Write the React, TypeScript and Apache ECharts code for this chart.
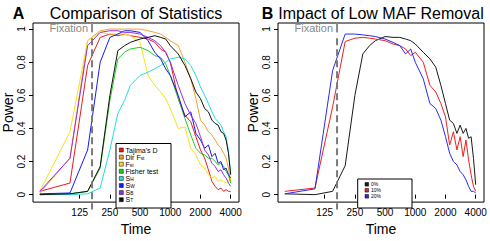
import React, { useEffect, useRef } from 'react';
import * as echarts from 'echarts';

// ---- data ----
const times = [50, 100, 150, 200, 250, 300, 350, 400, 500, 600, 700, 800, 900, 1000, 1200, 1400, 1600, 1800, 2000, 2200, 2400, 2600, 2800, 3000, 3200, 3400, 3600, 3800, 4000];
const tickTimes = [125, 250, 500, 1000, 2000, 4000];
const powerTicks = [0, 0.2, 0.4, 0.6, 0.8, 1];
const fixationTime = 166;

const statNames = ["Tajima's D", 'Dir Fst', 'Fst', 'Fisher test', 'SH', 'SW', 'SB', 'ST'];
const statColors = ['#e81c1c', '#f2a22e', '#f2e41c', '#22cc22', '#22dede', '#1a1ae8', '#9a2ee0', '#111111'];

const tajimaD = [0.02, 0.07, 0.78, 0.95, 0.97, 0.96, 0.97, 0.96, 0.95, 0.94, 0.92, 0.88, 0.86, 0.80, 0.58, 0.48, 0.44, 0.35, 0.27, 0.22, 0.15, 0.08, 0.05, 0.03, 0.04, 0.02, 0.03, 0.02, 0.02];
const dirFst = [0.01, 0.22, 0.93, 0.99, 1.0, 1.0, 1.0, 1.0, 1.0, 0.99, 0.98, 0.97, 0.95, 0.93, 0.90, 0.80, 0.70, 0.58, 0.45, 0.42, 0.38, 0.36, 0.33, 0.30, 0.28, 0.25, 0.22, 0.16, 0.08];
const fst = [0.02, 0.38, 0.93, 0.98, 0.97, 0.97, 0.97, 0.96, 0.92, 0.72, 0.66, 0.62, 0.58, 0.52, 0.40, 0.41, 0.28, 0.24, 0.18, 0.16, 0.12, 0.10, 0.11, 0.08, 0.09, 0.08, 0.07, 0.08, 0.10];
const fisherTest = [0.0, 0.005, 0.02, 0.16, 0.57, 0.82, 0.86, 0.88, 0.89, 0.87, 0.84, 0.83, 0.79, 0.72, 0.58, 0.46, 0.36, 0.28, 0.25, 0.24, 0.22, 0.22, 0.20, 0.18, 0.19, 0.17, 0.14, 0.12, 0.07];
const sH = [0.0, 0.0, 0.005, 0.04, 0.27, 0.49, 0.57, 0.66, 0.72, 0.74, 0.76, 0.78, 0.80, 0.82, 0.83, 0.82, 0.78, 0.72, 0.65, 0.60, 0.55, 0.50, 0.46, 0.44, 0.42, 0.38, 0.35, 0.26, 0.13];
const sW = [0.005, 0.01, 0.27, 0.80, 0.95, 0.97, 0.99, 0.99, 0.98, 0.93, 0.86, 0.82, 0.76, 0.72, 0.60, 0.47, 0.50, 0.37, 0.33, 0.28, 0.30, 0.23, 0.25, 0.19, 0.20, 0.15, 0.16, 0.12, 0.10];
const sB = [0.02, 0.22, 0.90, 0.98, 0.99, 0.99, 0.98, 0.98, 0.97, 0.95, 0.93, 0.90, 0.86, 0.80, 0.66, 0.55, 0.48, 0.43, 0.35, 0.27, 0.24, 0.19, 0.17, 0.14, 0.15, 0.12, 0.10, 0.07, 0.05];
const sT = [0.0, 0.005, 0.02, 0.17, 0.60, 0.87, 0.90, 0.92, 0.94, 0.95, 0.96, 0.95, 0.94, 0.90, 0.85, 0.78, 0.70, 0.62, 0.58, 0.52, 0.50, 0.45, 0.43, 0.42, 0.38, 0.37, 0.33, 0.25, 0.12];
const statValues = [tajimaD, dirFst, fst, fisherTest, sH, sW, sB, sT];

const mafNames = ['0%', '10%', '20%'];
const mafColors = ['#1a1a1a', '#ee2020', '#2a2aee'];
const maf0 = [0.005, 0.0, 0.02, 0.175, 0.60, 0.85, 0.90, 0.93, 0.955, 0.95, 0.95, 0.94, 0.93, 0.91, 0.86, 0.82, 0.77, 0.66, 0.55, 0.45, 0.43, 0.37, 0.42, 0.37, 0.40, 0.34, 0.35, 0.22, 0.06];
const maf10 = [0.02, 0.04, 0.53, 0.925, 0.945, 0.95, 0.945, 0.94, 0.93, 0.91, 0.90, 0.88, 0.84, 0.86, 0.80, 0.66, 0.62, 0.55, 0.47, 0.30, 0.38, 0.27, 0.35, 0.23, 0.33, 0.21, 0.12, 0.05, 0.02];
const maf20 = [0.005, 0.035, 0.75, 0.97, 0.97, 0.965, 0.96, 0.955, 0.94, 0.92, 0.90, 0.85, 0.88, 0.80, 0.70, 0.55, 0.52, 0.45, 0.35, 0.25, 0.20, 0.18, 0.14, 0.12, 0.09, 0.05, 0.02, 0.02, 0.01];
const mafValues = [maf0, maf10, maf20];

const titles = ['Comparison of Statistics', 'Impact of Low MAF Removal'];
const panelLetters = ['A', 'B'];

// ---- layout / style ----
const FONT = '"Liberation Sans", Arial, Helvetica, sans-serif';
const lg = (t: number) => Math.log2(t);
const X_MIN = 5.4195;
const X_MAX = 12.241;
const Y_MIN = -0.045;
const Y_MAX = 1.0368;
const GRID_LEFTS = [33, 278];
const GRID_TOP = 23;
const GRID_W = 206;
const GRID_H = 185;

const richMap: Record<string, string> = {
  "Tajima's D": "{n|Tajima's D}",
  'Dir Fst': '{n|Dir F}{s|st}',
  Fst: '{n|F}{s|st}',
  'Fisher test': '{n|Fisher test}',
  SH: '{n|S}{s|H}',
  SW: '{n|S}{s|W}',
  SB: '{n|S}{s|B}',
  ST: '{n|S}{s|T}',
};

// legend box descriptor: box rect, first row centre, row step, square x, text x, font size
const legendBoxes = [
  { names: statNames, colors: statColors, box: [116, 143.5, 55, 64.5], row0: 150, step: 7.1, sq: 119.3, tx: 125.5, fs: 7, sz: 4 },
  { names: mafNames, colors: mafColors, box: [357.7, 179, 54.3, 29], row0: 184.3, step: 6, sq: 365, tx: 371, fs: 5, sz: 3.6 },
];

function buildOption() {
  const grids = GRID_LEFTS.map((left) => ({
    left,
    top: GRID_TOP,
    width: GRID_W,
    height: GRID_H,
    show: true,
    borderColor: '#000',
    borderWidth: 1,
    backgroundColor: 'transparent',
  }));

  const xAxes = [0, 1].map((i) => ({
    type: 'value',
    gridIndex: i,
    min: X_MIN,
    max: X_MAX,
    axisLine: { show: false },
    splitLine: { show: false },
    axisTick: {
      show: true,
      inside: false,
      length: 4,
      customValues: tickTimes.map(lg),
      lineStyle: { color: '#000', width: 1 },
    },
    axisLabel: {
      customValues: tickTimes.map(lg),
      formatter: (v: number) => String(Math.round(Math.pow(2, v))),
      fontSize: 10,
      color: '#000',
      margin: 5,
      fontFamily: FONT,
    },
    name: 'Time',
    nameLocation: 'middle',
    nameGap: 16.5,
    nameTextStyle: { fontSize: 14, color: '#000', fontFamily: FONT },
  }));

  const yAxes = [0, 1].map((i) => ({
    type: 'value',
    gridIndex: i,
    min: Y_MIN,
    max: Y_MAX,
    axisLine: { show: false },
    splitLine: { show: false },
    axisTick: {
      show: true,
      inside: false,
      length: 4,
      customValues: powerTicks,
      lineStyle: { color: '#000', width: 1 },
    },
    axisLabel: {
      customValues: powerTicks,
      formatter: (v: number) => String(v),
      rotate: 90,
      fontSize: 10,
      color: '#000',
      margin: 7,
      fontFamily: FONT,
    },
    name: 'Power',
    nameLocation: 'middle',
    nameRotate: 90,
    nameGap: 18,
    nameTextStyle: { fontSize: 14, color: '#000', fontFamily: FONT },
  }));

  const lineSeries = (name: string, color: string, vals: number[], idx: number) => ({
    type: 'line',
    name,
    xAxisIndex: idx,
    yAxisIndex: idx,
    data: times.map((t, k) => [lg(t), vals[k]]),
    symbol: 'none',
    showSymbol: false,
    color,
    lineStyle: { color, width: 1 },
    silent: true,
    z: 2,
  });

  const fixationSeries = (idx: number) => ({
    type: 'custom',
    xAxisIndex: idx,
    yAxisIndex: idx,
    clip: false,
    silent: true,
    z: 6,
    data: [[lg(fixationTime), 0]],
    renderItem: (params: any, api: any) => {
      const x = api.coord([api.value(0), 0])[0];
      const yTop = api.coord([0, Y_MAX])[1];
      const yBar = api.coord([0, 0.98])[1];
      const yDash = api.coord([0, 0.945])[1];
      const yBottom = api.coord([0, -0.09])[1];
      const yText = api.coord([0, 1.0])[1] - 1;
      return {
        type: 'group',
        children: [
          { type: 'line', shape: { x1: x, y1: yTop, x2: x, y2: yBar }, style: { stroke: '#8a8a8a', lineWidth: 2 } },
          { type: 'line', shape: { x1: x, y1: yDash, x2: x, y2: yBottom }, style: { stroke: '#7a7a7a', lineWidth: 2, lineDash: [7, 4] } },
          {
            type: 'text',
            x: x - 4,
            y: yText,
            style: {
              text: 'Fixation',
              fill: '#8a8a8a',
              fontSize: 11,
              fontFamily: FONT,
              align: 'right',
              textAlign: 'right',
              verticalAlign: 'middle',
              textVerticalAlign: 'middle',
            },
          },
        ],
      };
    },
  });

  const series: any[] = [];
  statNames.forEach((n, k) => series.push(lineSeries(n, statColors[k], statValues[k], 0)));
  mafNames.forEach((n, k) => series.push(lineSeries(n, mafColors[k], mafValues[k], 1)));
  series.push(fixationSeries(0));
  series.push(fixationSeries(1));

  const graphic: any[] = [];
  [0, 1].forEach((i) => {
    const left = GRID_LEFTS[i];
    graphic.push({
      type: 'text',
      x: left + GRID_W / 2,
      y: 13.5,
      style: {
        text: titles[i],
        fontSize: 16,
        fontFamily: FONT,
        fill: '#000',
        align: 'center',
        textAlign: 'center',
        verticalAlign: 'middle',
        textVerticalAlign: 'middle',
      },
    });
    graphic.push({
      type: 'text',
      x: i === 0 ? 12.7 : 261.7,
      y: 13.5,
      style: {
        text: panelLetters[i],
        fontSize: 16,
        fontWeight: 'bold',
        fontFamily: FONT,
        fill: '#000',
        align: 'left',
        textAlign: 'left',
        verticalAlign: 'middle',
        textVerticalAlign: 'middle',
      },
    });
  });

  // legends (boxes drawn as graphic so their size matches the reference)
  legendBoxes.forEach((lb) => {
    const [bx, by, bw, bh] = lb.box;
    graphic.push({
      type: 'rect',
      z: 20,
      shape: { x: bx, y: by, width: bw, height: bh },
      style: { fill: '#fff', stroke: '#000', lineWidth: 1 },
      silent: true,
    });
    lb.names.forEach((name, k) => {
      const cy = lb.row0 + lb.step * k;
      graphic.push({
        type: 'rect',
        z: 21,
        shape: { x: lb.sq, y: cy - lb.sz / 2, width: lb.sz, height: lb.sz },
        style: { fill: lb.colors[k], stroke: '#000', lineWidth: 0.5 },
        silent: true,
      });
      graphic.push({
        type: 'text',
        z: 21,
        x: lb.tx,
        y: cy,
        silent: true,
        style: {
          text: richMap[name] || `{n|${name}}`,
          fill: '#000',
          fontSize: lb.fs,
          fontFamily: FONT,
          align: 'left',
          textAlign: 'left',
          verticalAlign: 'middle',
          textVerticalAlign: 'middle',
          rich: {
            n: { fontSize: lb.fs, lineHeight: lb.fs, fill: '#000', fontFamily: FONT },
            s: { fontSize: lb.fs * 0.68, lineHeight: lb.fs * 0.68, fill: '#000', fontFamily: FONT, verticalAlign: 'bottom' },
          },
        },
      });
    });
  });

  return {
    animation: false,
    backgroundColor: '#fff',
    textStyle: { fontFamily: FONT },
    grid: grids,
    xAxis: xAxes,
    yAxis: yAxes,
    series,
    graphic,
  };
}

export default function App() {
  const ref = useRef<HTMLDivElement>(null);
  useEffect(() => {
    if (!ref.current) return;
    const chart = echarts.init(ref.current, undefined, { renderer: 'svg' });
    chart.setOption(buildOption() as any);
    return () => chart.dispose();
  }, []);
  return (
    <div
      ref={ref}
      style={{ position: 'absolute', left: 0, top: 0, width: 490, height: 241, background: '#fff' }}
    />
  );
}
